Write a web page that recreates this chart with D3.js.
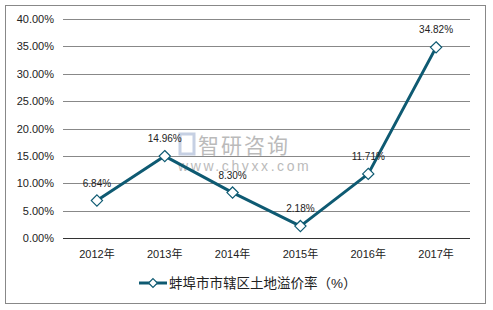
<!DOCTYPE html>
<html>
<head>
<meta charset="utf-8">
<script src="https://cdn.jsdelivr.net/npm/d3@7"></script>
<style>
  body { margin: 0; background: #fff; }
  text { font-family: Arial, "Liberation Sans", "Noto Sans CJK SC", sans-serif; }
</style>
</head>
<body>
<div id="main"></div>
<script>
  var years = ["2012年", "2013年", "2014年", "2015年", "2016年", "2017年"];
  var rates = [6.84, 14.96, 8.30, 2.18, 11.71, 34.82];
  var yTicks = [0, 5, 10, 15, 20, 25, 30, 35, 40];
  var seriesName = "蚌埠市市辖区土地溢价率（%）";

  var color = "#0e5a72";

  var svg = d3.select("#main").append("svg")
      .attr("width", 493)
      .attr("height", 310);

  // outer frame
  svg.append("rect")
      .attr("x", 5.5).attr("y", 5.5)
      .attr("width", 480).attr("height", 298)
      .attr("fill", "#fff")
      .attr("stroke", "#888")
      .attr("stroke-width", 1);

  var x = d3.scaleBand().domain(years).range([63, 470]);
  var y = d3.scaleLinear().domain([0, 40]).range([238, 19]);

  // gridlines
  svg.append("g")
    .selectAll("line")
    .data(yTicks)
    .enter().append("line")
      .attr("x1", 63).attr("x2", 470)
      .attr("y1", function(d) { return Math.round(y(d)) + 0.5; })
      .attr("y2", function(d) { return Math.round(y(d)) + 0.5; })
      .attr("stroke", function(d) { return d === 0 ? "#333" : "#888"; })
      .attr("stroke-width", 1);

  // y labels
  svg.append("g")
    .selectAll("text")
    .data(yTicks)
    .enter().append("text")
      .attr("x", 54)
      .attr("y", function(d) { return y(d) + 4; })
      .attr("text-anchor", "end")
      .attr("font-size", 11)
      .attr("fill", "#222")
      .text(function(d) { return d.toFixed(2) + "%"; });

  // x labels
  svg.append("g")
    .selectAll("text")
    .data(years)
    .enter().append("text")
      .attr("x", function(d) { return x(d) + x.bandwidth() / 2; })
      .attr("y", 258)
      .attr("text-anchor", "middle")
      .attr("font-size", 11)
      .attr("fill", "#222")
      .text(function(d) { return d; });

  // watermark
  var wm = svg.append("g").attr("opacity", 0.5);
  wm.append("rect").attr("x", 180).attr("y", 134).attr("width", 14).attr("height", 20)
      .attr("fill", "none").attr("stroke", "#8fa3c8").attr("stroke-width", 3);
  wm.append("text").attr("x", 198).attr("y", 153).attr("font-size", 21)
      .attr("fill", "#777").attr("letter-spacing", 2).text("智研咨询");
  wm.append("text").attr("x", 178).attr("y", 171).attr("font-size", 14)
      .attr("fill", "#777").attr("letter-spacing", 2.6).text("www.chyxx.com");

  var pts = years.map(function(d, i) { return [x(d) + x.bandwidth() / 2, y(rates[i])]; });

  svg.append("path")
      .attr("d", d3.line()(pts))
      .attr("fill", "none")
      .attr("stroke", color)
      .attr("stroke-width", 3)
      .attr("stroke-linejoin", "round");

  var diamond = d3.symbol().type(d3.symbolDiamond2).size(80);
  svg.append("g")
    .selectAll("path")
    .data(pts)
    .enter().append("path")
      .attr("d", diamond)
      .attr("transform", function(d) { return "translate(" + d[0] + "," + d[1] + ")"; })
      .attr("fill", "#fff")
      .attr("stroke", color)
      .attr("stroke-width", 1.2);

  svg.append("g")
    .selectAll("text")
    .data(rates)
    .enter().append("text")
      .attr("x", function(d, i) { return pts[i][0]; })
      .attr("y", function(d, i) { return pts[i][1] - 14; })
      .attr("text-anchor", "middle")
      .attr("font-size", 10)
      .attr("fill", "#222")
      .text(function(d) { return d.toFixed(2) + "%"; });

  // legend
  var lg = svg.append("g");
  lg.append("line").attr("x1", 139).attr("x2", 167).attr("y1", 283).attr("y2", 283)
      .attr("stroke", color).attr("stroke-width", 3);
  lg.append("path").attr("d", d3.symbol().type(d3.symbolDiamond2).size(50))
      .attr("transform", "translate(153,283)")
      .attr("fill", "#fff").attr("stroke", color).attr("stroke-width", 1.2);
  lg.append("text").attr("x", 169).attr("y", 288).attr("font-size", 13.5)
      .attr("fill", "#222").text(seriesName);
</script>
</body>
</html>
